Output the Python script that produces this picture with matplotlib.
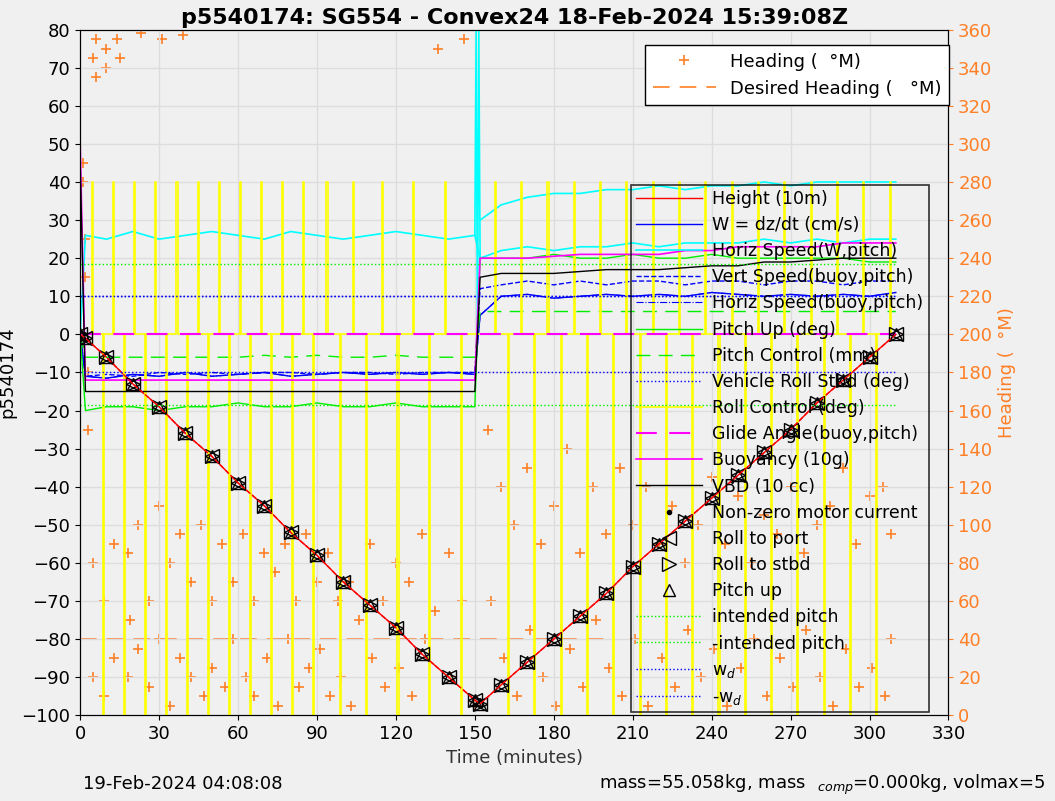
import matplotlib.pyplot as plt
import numpy as np

# sample times (minutes)
t = [0, 2, 10, 20, 30, 40, 50, 60, 70, 80, 90, 100, 110, 120, 130, 140, 150,
     152, 160, 170, 180, 190, 200, 210, 220, 230, 240, 250, 260, 270, 280, 290, 300, 310]
depth = [0, -1, -6, -13, -19, -26, -32, -39, -45, -52, -58, -65, -71, -77, -84, -90, -96,
         -97, -92, -86, -80, -74, -68, -61, -55, -49, -43, -37, -31, -25, -18, -12, -6, 0]
w = [0, -11, -11.5, -10.5, -11, -10, -11, -10.5, -10, -11, -10.5, -10, -10.5, -10, -10.5, -10, -10.5,
     5, 10, 10.5, 9.5, 10, 10.5, 10, 10.5, 10, 11, 10.5, 10, 10.5, 10, 10.5, 10, 11]
horiz_w = [0, 26, 25, 27, 25, 26, 27, 26, 25, 27, 26, 25, 26, 27, 26, 25, 26,
           20, 22, 23, 22, 23, 23, 24, 23, 24, 24, 24, 25, 24, 25, 24, 25, 25]
horiz_w2 = [np.nan] * 17 + [30, 34, 36, 37, 37, 38, 38, 39, 38, 39, 39, 40, 39, 40, 40, 40, 40]
vert_buoy = [0, -11, -10.5, -11, -10, -10.5, -10, -10.5, -10, -10, -10.5, -10, -10, -10.5, -10, -10, -10,
             12, 13, 14, 13, 14, 13, 14, 14, 13, 14, 14, 13, 14, 14, 13, 14, 14]
pitch = [0, -20, -19, -19, -20, -19, -19, -18, -19, -19, -18, -19, -19, -18, -19, -19, -19,
         20, 20, 20, 21, 20, 20, 21, 20, 20, 21, 20, 20, 20, 20, 20, 19, 19]
pitch_ctl = [0, -6, -6, -6, -6, -6, -6, -6, -5.5, -6, -5.5, -6, -6, -5.5, -6, -6, -6,
             6, 6, 6, 6, 6, 6, 6, 6, 6, 6, 6, 6, 6, 6, 6, 6, 6]
buoyancy = [50, -12, -12, -12, -12, -12, -12, -12, -12, -12, -12, -12, -12, -12, -12, -12, -12,
            20, 20, 20, 20.5, 21, 21, 21, 21, 22, 22, 23, 23, 23, 23, 24, 24, 24]
vbd = [45, -15, -15, -15, -15, -15, -15, -15, -15, -15, -15, -15, -15, -15, -15, -15, -15,
       15, 16, 16, 16, 16.5, 17, 17, 17, 17.5, 18, 18, 19, 19, 19.5, 20, 20, 20]

# roll control spikes (minutes) and their peak values
roll_times = [5, 9, 13, 17, 21, 25, 29, 33, 37, 41, 45, 49, 53, 57, 61, 65, 69, 73, 77, 81, 85, 89,
              94, 99, 104, 109, 115, 121, 127, 133, 139, 145,
              158, 163, 168, 173, 178, 183, 188, 193, 198, 203, 208, 213, 218, 223, 228, 233, 238,
              243, 248, 253, 258, 263, 268, 273, 278, 283, 288, 293, 298, 303, 308]
roll_peak = [40, -100] * 31 + [40]

# heading (deg M)
heading_t = [1, 1, 2, 2, 3, 3, 5, 5, 5, 6, 6, 9, 9, 10, 10, 13, 13, 14, 15, 18, 18, 19, 22, 22, 23,
             26, 26, 30, 30, 31, 34, 34, 38, 38, 39, 42, 42, 46, 47, 50, 50, 54, 55, 58, 58, 62, 63,
             66, 66, 70, 71, 74, 75, 78, 79, 82, 83, 86, 87, 90, 91, 94, 95, 98, 99, 102, 103, 106,
             110, 111, 115, 116, 120, 121, 125, 126, 130, 131, 135, 136, 140, 141, 145, 146, 150,
             155, 156, 160, 161, 165, 166, 170, 171, 175, 176, 180, 181, 185, 186, 190, 191, 195,
             196, 200, 201, 205, 206, 210, 211, 215, 216, 220, 221, 225, 226, 230, 231, 235, 236,
             240, 241, 245, 246, 250, 251, 255, 256, 260, 261, 265, 266, 270, 271, 275, 276, 280,
             281, 285, 286, 290, 291, 295, 296, 300, 301, 305, 306, 308, 308]
heading_v = [290, 280, 250, 230, 180, 150, 80, 20, 345, 355, 335, 60, 10, 350, 340, 90, 30, 355, 345,
             85, 20, 50, 100, 35, 358, 60, 15, 110, 40, 355, 80, 5, 95, 30, 357, 70, 20, 100, 10, 60,
             25, 90, 15, 70, 40, 95, 20, 60, 10, 85, 30, 75, 5, 90, 40, 60, 15, 95, 25, 70, 35, 85,
             10, 60, 20, 70, 5, 50, 90, 30, 60, 15, 80, 25, 70, 10, 95, 40, 55, 350, 85, 20, 60, 355,
             5, 150, 60, 120, 30, 100, 10, 130, 45, 90, 20, 110, 5, 140, 35, 85, 15, 120, 50, 95, 25,
             130, 10, 100, 40, 120, 5, 90, 30, 110, 15, 80, 45, 100, 20, 125, 35, 90, 5, 115, 25,
             80, 40, 105, 10, 95, 30, 120, 15, 85, 45, 100, 20, 110, 5, 130, 35, 90, 15, 115, 25,
             120, 10, 95, 40]
desired_t = [0, 200]
desired_v = [40, 40]

fig = plt.figure(figsize=(10.55, 8.01), dpi=100, facecolor='#f0f0f0')
ax = fig.add_axes([0.076, 0.107, 0.823, 0.856])
ax2 = ax.twinx()
ax.set_zorder(ax2.get_zorder() + 1)
ax.patch.set_visible(False)
ax2.set_facecolor('white')

hh, = ax2.plot(heading_t, heading_v, '+', color='#ff7f27', ms=7, mew=1.2, label='Heading (  °M)')
hd, = ax2.plot(desired_t, desired_v, '--', color='#ff7f27', dashes=(10, 6), lw=1.2, label='Desired Heading (   °M)')
ax2.set_ylim(0, 360)
ax2.set_yticks(range(0, 361, 20))
ax2.tick_params(axis='y', colors='#ff7f27', labelsize=13)
ax2.set_ylabel('Heading (  °M)', color='#ff7f27', fontsize=13)

# yellow roll control trace
ry_t, ry_v = [], []
for rt, rp in zip(roll_times, roll_peak):
    ry_t += [rt - 0.4, rt - 0.4, rt, rt]
    ry_v += [0, rp, rp, 0]
lines = []
lines += ax.plot(t, depth, '-', color='red', lw=1, label='Height (10m)')
lines += ax.plot(t, w, '-', color='blue', lw=1, label='W = dz/dt (cm/s)')
lines += ax.plot(t, horiz_w, '-', color='cyan', lw=1.2, label='Horiz Speed(W,pitch)')
ax.plot([150, 150.5, 151, 151.5, 152], [26, 80, 0, 80, 20], '-', color='cyan', lw=1.2)
ax.plot(t, horiz_w2, '-', color='cyan', lw=1.2)
lines += ax.plot(t, vert_buoy, '--', color='blue', lw=1, label='Vert Speed(buoy,pitch)')
lines += ax.plot(t, w, '-.', color='blue', lw=0.8, label='Horiz Speed(buoy,pitch)')
lines += ax.plot(t, pitch, '-', color='#00ee00', lw=1, label='Pitch Up (deg)')
lines += ax.plot(t, pitch_ctl, '--', color='#00ee00', dashes=(10, 6), lw=1, label='Pitch Control (mm)')
lines += ax.plot([0, 310], [10, 10], ':', color='blue', lw=1, label='Vehicle Roll Stbd (deg)')
lines += ax.plot(ry_t, ry_v, '-', color='yellow', lw=1.2, label='Roll Control (deg)')
lines += ax.plot([0, 310], [0, 0], '--', color='magenta', dashes=(10, 6), lw=1.5, label='Glide Angle(buoy,pitch)')
lines += ax.plot(t, buoyancy, '-', color='magenta', lw=1.2, label='Buoyancy (10g)')
lines += ax.plot(t, vbd, '-', color='black', lw=1, label='VBD (10 cc)')
lines += ax.plot([], [], '.', color='black', label='Non-zero motor current')
lines += ax.plot(t, depth, '<', color='black', mfc='none', ms=10, label='Roll to port')
lines += ax.plot(t, depth, '>', color='black', mfc='none', ms=10, label='Roll to stbd')
lines += ax.plot(t, depth, '^', color='black', mfc='none', ms=9, label='Pitch up')
ax.plot(t, depth, '--', color='red', lw=1)
lines += ax.plot([0, 310], [18.5, 18.5], ':', color='#00ee00', lw=1, label='intended pitch')
lines += ax.plot([0, 310], [-18.5, -18.5], ':', color='#00ee00', lw=1, label='-intended pitch')
lines += ax.plot([0, 310], [10, 10], ':', color='blue', lw=1, label='w$_d$')
lines += ax.plot([0, 310], [-10, -10], ':', color='blue', lw=1, label='-w$_d$')

ax.set_xlim(0, 330)
ax.set_ylim(-100, 80)
ax.set_xticks(range(0, 331, 30))
ax.set_yticks(range(-100, 81, 10))
ax.tick_params(labelsize=13)
ax2.grid(False)
ax.grid(True, color='#dddddd', lw=1)
ax.set_axisbelow(True)
ax.set_xlabel('Time (minutes)', fontsize=13, color='#333333')
ax.set_ylabel('p5540174', fontsize=13)
ax.set_title('p5540174: SG554 - Convex24 18-Feb-2024 15:39:08Z', fontsize=16, fontweight='bold', pad=4)

leg2 = ax.legend(handles=lines, loc='upper left', bbox_to_anchor=(0.634, 0.774), fontsize=12.5,
                 frameon=True, fancybox=False, edgecolor='black', facecolor='none', handlelength=3.8,
                 labelspacing=0.47, borderaxespad=0, borderpad=0.3, handletextpad=0.6)
leg2.get_frame().set_linewidth(1.2)
ax.add_artist(leg2)
leg1 = ax.legend(handles=[hh, hd], loc='upper left', bbox_to_anchor=(0.651, 0.977), fontsize=13,
                 frameon=True, fancybox=False, edgecolor='black', facecolor='white', framealpha=1,
                 handlelength=3.5, borderaxespad=0)

fig.text(0.079, 0.015, '19-Feb-2024 04:08:08', fontsize=13)
fig.text(0.568, 0.015, 'mass=55.058kg, mass$_{\\ \\ \\ comp}$=0.000kg, volmax=5', fontsize=13)

fig.savefig('out.png', dpi=100, facecolor=fig.get_facecolor())
